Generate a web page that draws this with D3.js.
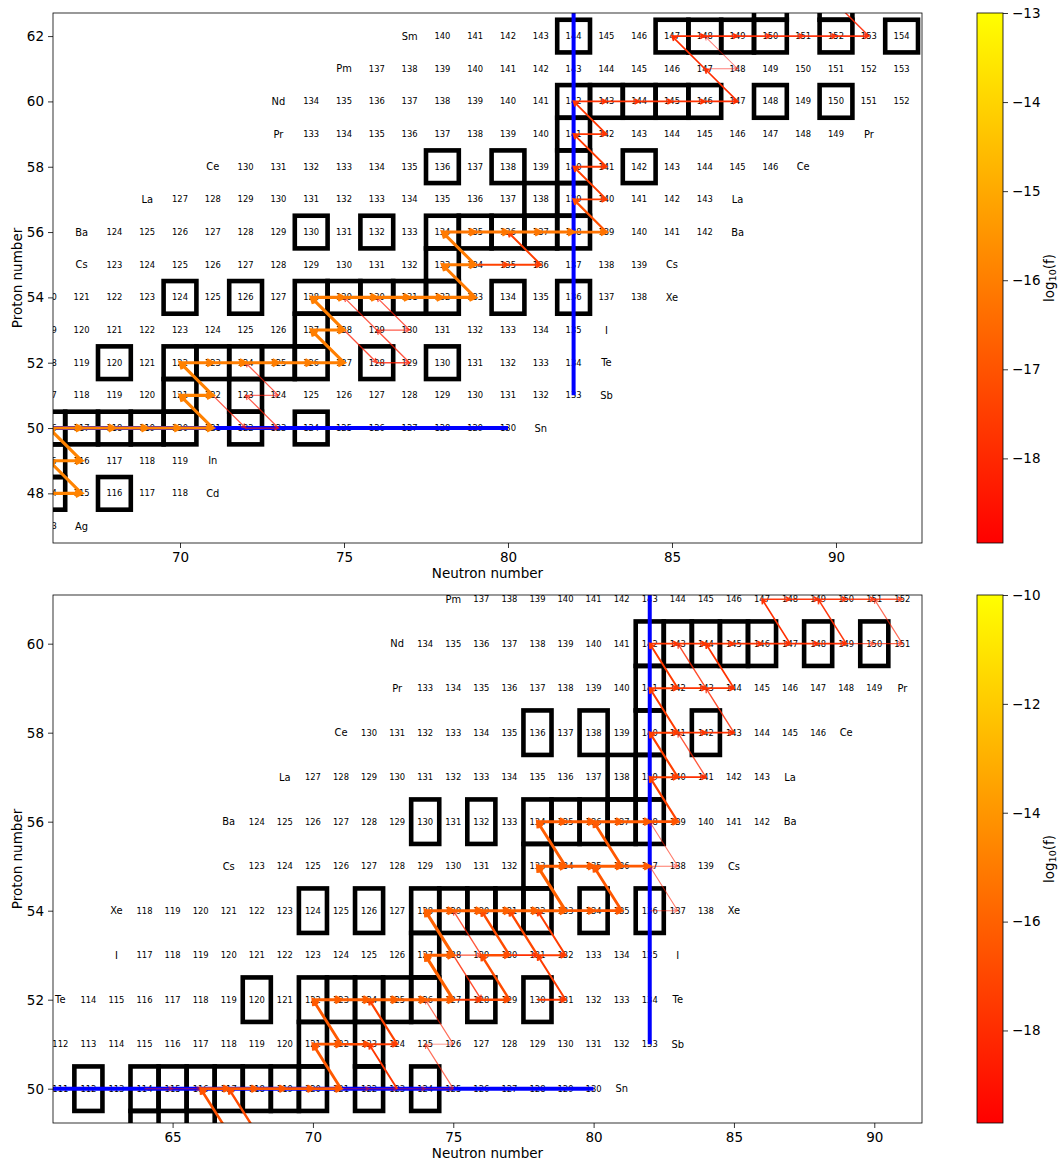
<!DOCTYPE html>
<html>
<head>
<meta charset="utf-8">
<script src="https://cdn.jsdelivr.net/npm/d3@7"></script>
<style>
  body { margin: 0; background: #fff; }
  text { font-family: "DejaVu Sans", sans-serif; fill: #000; }
</style>
</head>
<body>
<svg id="chart" width="1058" height="1164"></svg>
<script>
// ---- chart of nuclides: one row per element [Z, symbol, N of leading symbol, N of last mass number]
const isotopeRows = [
  [62, "Sm", 77, 92], [61, "Pm", 75, 92], [60, "Nd", 73, 92], [59, "Pr", 73, 90],
  [58, "Ce", 71, 88], [57, "La", 69, 86], [56, "Ba", 67, 86], [55, "Cs", 67, 84],
  [54, "Xe", 63, 84], [53, "I", 63, 82], [52, "Te", 61, 82], [51, "Sb", 59, 82],
  [50, "Sn", 59, 80], [49, "In", 61, 70], [48, "Cd", 61, 70], [47, "Ag", 59, 66]
];

// stable isotopes: [Z, neutron numbers]
const stableNuclides = [
  [63, [88, 90]],
  [62, [82, 85, 86, 87, 88, 90, 92]],
  [60, [82, 83, 84, 85, 86, 88, 90]],
  [59, [82]],
  [58, [78, 80, 82, 84]],
  [57, [81, 82]],
  [56, [74, 76, 78, 79, 80, 81, 82]],
  [55, [78]],
  [54, [70, 72, 74, 75, 76, 77, 78, 80, 82]],
  [53, [74]],
  [52, [68, 70, 71, 72, 73, 74, 76, 78]],
  [51, [70, 72]],
  [50, [62, 64, 65, 66, 67, 68, 69, 70, 72, 74]],
  [49, [64, 66]],
  [48, [58, 60, 62, 63, 64, 65, 66, 68]],
  [47, [60, 62]]
];

// closed shells: N = 82 and Z = 50  [N0, Z0, N1, Z1]
const magicLines = [
  [82, 51, 82, 66],
  [54, 50, 80, 50]
];

// reaction flows, upper chart: [N from, Z from, N to, Z to, log10(f)]
const flowUpper = [
  [66,48,67,48,-15.9],[67,48,66,49,-15.9],[66,49,67,49,-15.9],[67,49,66,50,-15.9],
  [66,50,67,50,-15.9],[67,50,68,50,-15.9],[68,50,69,50,-15.9],[69,50,70,50,-15.9],[70,50,71,50,-15.9],
  [71,50,70,51,-15.95],[70,51,71,51,-15.95],[71,51,70,52,-15.95],
  [70,52,71,52,-16.0],[71,52,72,52,-16.0],[72,52,73,52,-16.0],[73,52,74,52,-16.0],[74,52,75,52,-16.0],
  [75,52,74,53,-16.0],[74,53,75,53,-16.0],[75,53,74,54,-16.0],
  [74,54,75,54,-16.05],[75,54,76,54,-16.05],[76,54,77,54,-16.05],[77,54,78,54,-16.05],[78,54,79,54,-16.05],
  [79,54,78,55,-16.1],[78,55,79,55,-16.1],[79,55,78,56,-16.1],
  [78,56,79,56,-16.2],[79,56,80,56,-16.2],[80,56,81,56,-16.2],[81,56,82,56,-16.2],[82,56,83,56,-16.3],
  [79,55,80,55,-17.4],[80,55,81,55,-17.5],[81,55,80,56,-17.5],
  [83,56,82,57,-17.1],[82,57,83,57,-17.5],[83,57,82,58,-17.5],[82,58,83,58,-17.6],[83,58,82,59,-17.6],
  [82,59,83,59,-17.7],[83,59,82,60,-17.7],
  [82,60,83,60,-17.8],[83,60,84,60,-17.8],[84,60,85,60,-17.8],[85,60,86,60,-17.8],[86,60,87,60,-17.9],
  [87,60,86,61,-17.9],[86,61,85,62,-17.9],[86,61,87,61,-18.7],[87,61,86,62,-18.7],
  [85,62,86,62,-17.9],[86,62,87,62,-17.9],[87,62,88,62,-18.0],[88,62,89,62,-18.0],
  [89,62,90,62,-18.0],[90,62,91,62,-18.0],[91,62,90,63,-18.1],
  [71,51,72,50,-18.4],[72,50,73,50,-18.4],[73,50,72,51,-18.4],[72,51,73,51,-18.6],[73,51,72,52,-18.4],
  [75,53,76,52,-18.3],[76,52,77,52,-18.3],[77,52,76,53,-18.3],[76,53,77,53,-18.4],
  [77,53,76,54,-18.4],[76,53,75,54,-18.4]
];

// reaction flows, lower chart
const flowLower = [
  [64,50,65,50,-18.6],[65,50,66,50,-18.6],
  [67,49,66,50,-16.6],[68,49,67,50,-16.9],
  [66,50,67,50,-16.5],[67,50,68,50,-16.4],[68,50,69,50,-16.4],[69,50,70,50,-16.4],[70,50,71,50,-16.4],
  [71,50,70,51,-16.3],[71,50,72,50,-18.6],[72,50,73,50,-18.6],[73,50,74,50,-18.7],[74,50,75,50,-18.7],
  [73,50,72,51,-17.6],[75,50,74,51,-18.5],
  [70,51,71,51,-16.3],[71,51,72,51,-16.9],[72,51,73,51,-17.4],
  [71,51,70,52,-16.3],[73,51,72,52,-17.2],
  [74,51,75,51,-18.8],[75,51,74,52,-18.5],
  [70,52,71,52,-16.1],[71,52,72,52,-16.1],[72,52,73,52,-16.0],[73,52,74,52,-16.0],[74,52,75,52,-16.0],
  [75,52,76,52,-17.4],[76,52,77,52,-16.9],[78,52,79,52,-17.5],
  [75,52,74,53,-16.0],[77,52,76,53,-16.8],[79,52,78,53,-17.4],
  [75,53,76,52,-18.2],
  [74,53,75,53,-16.0],[75,53,76,53,-18.3],[76,53,77,53,-16.8],[77,53,78,53,-17.9],[78,53,79,53,-17.4],
  [75,53,74,54,-16.0],[76,53,75,54,-18.3],[77,53,76,54,-16.8],[78,53,77,54,-17.0],[79,53,78,54,-17.4],
  [74,54,75,54,-16.0],[75,54,76,54,-16.0],[76,54,77,54,-16.0],[77,54,78,54,-16.0],[78,54,79,54,-16.0],
  [79,54,80,54,-16.3],[80,54,81,54,-16.4],[82,54,83,54,-18.7],
  [79,54,78,55,-16.0],[81,54,80,55,-16.4],[83,54,82,55,-18.6],
  [78,55,79,55,-16.1],[79,55,80,55,-16.2],[80,55,81,55,-16.2],[81,55,82,55,-16.3],[82,55,83,55,-18.6],
  [79,55,78,56,-16.2],[81,55,80,56,-16.4],[83,55,82,56,-18.6],
  [78,56,79,56,-16.2],[79,56,80,56,-16.2],[80,56,81,56,-16.2],[81,56,82,56,-16.2],[82,56,83,56,-16.5],
  [83,56,82,57,-17.2],
  [82,57,83,57,-17.3],[83,57,84,57,-17.9],
  [83,57,82,58,-17.3],[84,57,83,58,-18.3],
  [82,58,83,58,-17.4],[83,58,84,58,-17.6],[84,58,85,58,-17.8],
  [83,58,82,59,-17.4],[85,58,84,59,-18.2],
  [82,59,83,59,-17.5],[83,59,84,59,-17.8],[84,59,85,59,-17.8],
  [83,59,82,60,-17.5],[84,59,83,60,-18.2],[85,59,84,60,-17.8],
  [82,60,83,60,-17.7],[83,60,84,60,-17.7],[84,60,85,60,-17.7],[85,60,86,60,-17.8],[86,60,87,60,-17.8],
  [87,60,88,60,-17.9],[88,60,89,60,-17.9],[89,60,90,60,-18.4],[90,60,91,60,-18.4],
  [87,60,86,61,-17.9],[89,60,88,61,-18.0],[91,60,90,61,-18.5],
  [86,61,87,61,-18.0],[87,61,88,61,-18.0],[88,61,89,61,-18.0],[89,61,90,61,-18.1],[90,61,91,61,-18.2]
];

// axis ticks and colour ranges
const upperXTicks = [70, 75, 80, 85, 90];
const upperYTicks = [48, 50, 52, 54, 56, 58, 60, 62];
const upperCbTicks = [-18, -17, -16, -15, -14, -13];
const lowerXTicks = [65, 70, 75, 80, 85, 90];
const lowerYTicks = [50, 52, 54, 56, 58, 60];
const lowerCbTicks = [-18, -16, -14, -12, -10];

const svg = d3.select("#chart");
const defs = svg.append("defs");
const LEFT = 53, RIGHT = 922;
const MASS_FS = 8.4, SYM_FS = 9.9;
const fmtMinus = v => String(v).replace("-", "\u2212");
const autumn = t => d3.rgb(255, Math.round(255 * Math.max(0, Math.min(1, t))), 0).toString();

function drawPanel(o) {
  const x = d3.scaleLinear().domain(o.nDomain).range([LEFT, RIGHT]);
  const y = d3.scaleLinear().domain(o.zDomain).range([o.bottom, o.top]);
  const t = d3.scaleLinear().domain(o.cbDomain).range([0, 1]);
  const width = d3.scaleLinear().domain([-19, -16]).range([0.8, 3.1]).clamp(true);
  const opacity = d3.scaleLinear().domain([-19, -17.9]).range([0.35, 1]).clamp(true);

  defs.append("clipPath").attr("id", "clip-" + o.id)
    .append("rect").attr("x", LEFT).attr("y", o.top)
    .attr("width", RIGHT - LEFT).attr("height", o.bottom - o.top);

  const plot = svg.append("g").attr("clip-path", `url(#clip-${o.id})`);

  // isotope labels (only those that reach into the plotting area)
  const labels = [];
  isotopeRows.forEach(([z, sym, n0, n1]) => {
    labels.push({ n: n0, z, text: sym, el: true });
    for (let n = n0 + 1; n <= n1; n++) labels.push({ n, z, text: String(n + z), el: false });
    labels.push({ n: n1 + 1, z, text: sym, el: true });
  });
  const shown = labels.filter(d => {
    const fs = d.el ? SYM_FS : MASS_FS;
    const hw = 0.32 * fs * d.text.length, hh = 0.4 * fs;
    return x(d.n) + hw > LEFT && x(d.n) - hw < RIGHT && y(d.z) + hh > o.top && y(d.z) - hh < o.bottom;
  });
  plot.append("g").selectAll("text").data(shown).join("text")
    .attr("x", d => x(d.n)).attr("y", d => y(d.z))
    .attr("text-anchor", "middle").attr("dominant-baseline", "central")
    .attr("font-size", d => (d.el ? SYM_FS : MASS_FS) + "px")
    .text(d => d.text);

  // stable nuclides
  const boxes = stableNuclides.flatMap(([z, ns]) => ns.map(n => ({ n, z })));
  plot.append("g").selectAll("rect").data(boxes).join("rect")
    .attr("x", d => x(d.n - 0.5)).attr("y", d => y(d.z + 0.5))
    .attr("width", d => x(d.n + 0.5) - x(d.n - 0.5))
    .attr("height", d => y(d.z - 0.5) - y(d.z + 0.5))
    .attr("fill", "none").attr("stroke", "#000").attr("stroke-width", 4.6);

  // shell closures
  plot.append("g").selectAll("line").data(magicLines).join("line")
    .attr("x1", d => x(d[0])).attr("y1", d => y(d[1]))
    .attr("x2", d => x(d[2])).attr("y2", d => y(d[3]))
    .attr("stroke", "#0000ff").attr("stroke-width", 4);

  // flow arrows, weakest first
  const flows = o.flows.slice().sort((a, b) => a[4] - b[4]);
  plot.append("g").selectAll("path").data(flows).join("path")
    .attr("d", d => {
      const x0 = x(d[0]), y0 = y(d[1]), x1 = x(d[2]), y1 = y(d[3]);
      const len = Math.hypot(x1 - x0, y1 - y0);
      const ux = (x1 - x0) / len, uy = (y1 - y0) / len;
      const w = width(d[4]);
      const hl = 3.2 + 0.9 * w, hw = 1.6 + 0.5 * w;
      const bx = x1 - ux * hl, by = y1 - uy * hl;
      return `M${x0},${y0}L${x1},${y1}` +
        `M${bx - uy * hw},${by + ux * hw}L${x1},${y1}L${bx + uy * hw},${by - ux * hw}`;
    })
    .attr("fill", "none")
    .attr("stroke", d => autumn(t(d[4])))
    .attr("stroke-width", d => width(d[4]))
    .attr("stroke-opacity", d => opacity(d[4]))
    .attr("stroke-linejoin", "miter");

  // frame
  svg.append("rect").attr("x", LEFT).attr("y", o.top)
    .attr("width", RIGHT - LEFT).attr("height", o.bottom - o.top)
    .attr("fill", "none").attr("stroke", "#000").attr("stroke-width", 0.8);

  // axes
  const xAxis = svg.append("g").attr("transform", `translate(0,${o.bottom})`)
    .call(d3.axisBottom(x).tickValues(o.xTicks).tickSize(5).tickPadding(4).tickFormat(d3.format("d")));
  const yAxis = svg.append("g").attr("transform", `translate(${LEFT},0)`)
    .call(d3.axisLeft(y).tickValues(o.yTicks).tickSize(5).tickPadding(4).tickFormat(d3.format("d")));
  [xAxis, yAxis].forEach(a => {
    a.select(".domain").remove();
    a.selectAll("line").attr("stroke", "#000").attr("stroke-width", 0.8);
    a.selectAll("text").attr("font-size", "13.5px").attr("font-family", "DejaVu Sans, sans-serif").attr("fill", "#000");
  });

  svg.append("text").attr("x", (LEFT + RIGHT) / 2).attr("y", o.bottom + 30)
    .attr("text-anchor", "middle").attr("dominant-baseline", "central")
    .attr("font-size", "13.5px").text("Neutron number");
  svg.append("text")
    .attr("transform", `translate(17,${(o.top + o.bottom) / 2}) rotate(-90)`)
    .attr("text-anchor", "middle").attr("dominant-baseline", "central")
    .attr("font-size", "13.5px").text("Proton number");

  // colour bar
  const cbX = 977, cbW = 26;
  const cbY = d3.scaleLinear().domain(o.cbDomain).range([o.bottom, o.top]);
  const grad = defs.append("linearGradient").attr("id", "grad-" + o.id)
    .attr("x1", 0).attr("y1", 1).attr("x2", 0).attr("y2", 0);
  grad.append("stop").attr("offset", 0).attr("stop-color", autumn(0));
  grad.append("stop").attr("offset", 1).attr("stop-color", autumn(1));
  svg.append("rect").attr("x", cbX).attr("y", o.top).attr("width", cbW)
    .attr("height", o.bottom - o.top).attr("fill", `url(#grad-${o.id})`)
    .attr("stroke", "#000").attr("stroke-width", 0.8);
  const cbAxis = svg.append("g").attr("transform", `translate(${cbX + cbW},0)`)
    .call(d3.axisRight(cbY).tickValues(o.cbTicks).tickSize(5).tickPadding(4).tickFormat(fmtMinus));
  cbAxis.select(".domain").remove();
  cbAxis.selectAll("line").attr("stroke", "#000").attr("stroke-width", 0.8);
  cbAxis.selectAll("text").attr("font-size", "13.5px").attr("font-family", "DejaVu Sans, sans-serif").attr("fill", "#000");

  const lab = svg.append("text")
    .attr("transform", `translate(1049,${(o.top + o.bottom) / 2}) rotate(-90)`)
    .attr("text-anchor", "middle").attr("dominant-baseline", "central")
    .attr("font-size", "13.5px");
  lab.append("tspan").text("log");
  lab.append("tspan").attr("font-size", "9.5px").attr("dy", 3).text("10");
  lab.append("tspan").attr("dy", -3).text("(f)");
}

drawPanel({
  id: "upper", top: 13, bottom: 543,
  nDomain: [66.128, 92.622], zDomain: [46.48, 62.707],
  cbDomain: [-18.95, -13],
  xTicks: upperXTicks, yTicks: upperYTicks, cbTicks: upperCbTicks,
  flows: flowUpper
});

drawPanel({
  id: "lower", top: 595, bottom: 1123,
  nDomain: [60.739, 91.70], zDomain: [49.229, 61.094],
  cbDomain: [-19.7, -10],
  xTicks: lowerXTicks, yTicks: lowerYTicks, cbTicks: lowerCbTicks,
  flows: flowLower
});
</script>
</body>
</html>
